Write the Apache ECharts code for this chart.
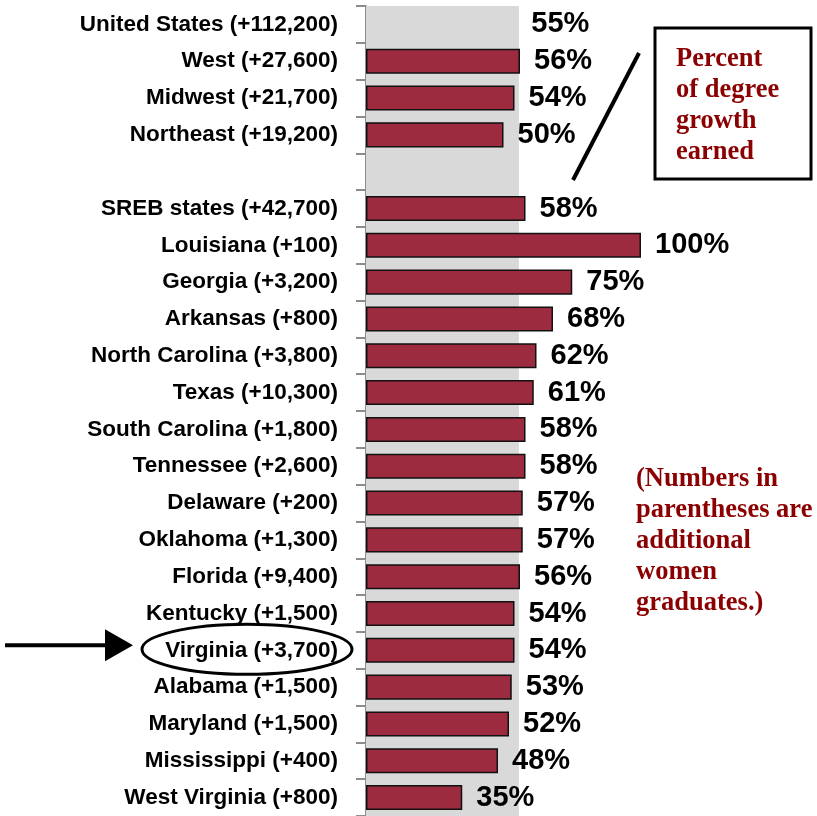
<!DOCTYPE html>
<html><head><meta charset="utf-8">
<script src="https://cdn.jsdelivr.net/npm/echarts@6/dist/echarts.min.js"></script>
<style>html,body{margin:0;padding:0;background:#fff}#c{width:817px;height:816px}</style>
</head><body><div id="c"></div>
<script>
const categories = ['United States (+112,200)','West (+27,600)','Midwest (+21,700)','Northeast (+19,200)','',
  'SREB states (+42,700)','Louisiana (+100)','Georgia (+3,200)','Arkansas (+800)','North Carolina (+3,800)',
  'Texas (+10,300)','South Carolina (+1,800)','Tennessee (+2,600)','Delaware (+200)','Oklahoma (+1,300)',
  'Florida (+9,400)','Kentucky (+1,500)','Virginia (+3,700)','Alabama (+1,500)','Maryland (+1,500)',
  'Mississippi (+400)','West Virginia (+800)'];
const values = [55,56,54,50,null,58,100,75,68,62,61,58,58,57,57,56,54,54,53,52,48,35];
const usValue = 55;
const boxText = ['Percent','of degree','growth','earned'];
const noteText = ['(Numbers in','parentheses are','additional','women','graduates.)'];

const chart = echarts.init(document.getElementById('c'));
const barData = values.map((v,i)=> i===0
  ? {value:v, itemStyle:{color:'rgba(0,0,0,0)', borderWidth:0}}
  : (v===null ? '-' : v));

chart.setOption({
  animation:false,
  grid:{left:366, width:275, top:6, height:817, containLabel:false},
  xAxis:{type:'value', min:0, max:100, show:false},
  yAxis:{type:'category', data:categories, inverse:true,
    axisLine:{show:true, lineStyle:{color:'#8c8c8c', width:2}},
    axisTick:{show:true, alignWithLabel:false, length:10, lineStyle:{color:'#8c8c8c', width:2}},
    axisLabel:{margin:28, color:'#000', fontFamily:'Liberation Sans, Arial, sans-serif', fontWeight:'bold', fontSize:22.5, padding:[4,0,0,0]}
  },
  series:[{
    type:'bar', data:barData, barWidth:'68%',
    itemStyle:{color:'#9c2b3f', borderColor:'#111', borderWidth:1.5},
    label:{show:true, position:'right', distance:14, formatter:'{c}%', color:'#000',
      fontFamily:'Liberation Sans, Arial, sans-serif', fontWeight:'bold', fontSize:29, padding:[4,0,0,0]},
    markArea:{silent:true, itemStyle:{color:'#d9d9d9'}, data:[[{xAxis:0},{xAxis:usValue + 0.6}]]},
    z:2
  }]
});

const vy = chart.convertToPixel({yAxisIndex:0}, categories[17]);
const serif = 'Liberation Serif, Times New Roman, serif';
chart.setOption({graphic:[
  {type:'ellipse', shape:{cx:247, cy:vy-1, rx:105, ry:25}, style:{fill:'none', stroke:'#000', lineWidth:3}},
  {type:'line', shape:{x1:5, y1:vy-5, x2:108, y2:vy-5}, style:{stroke:'#000', lineWidth:4}},
  {type:'polygon', shape:{points:[[105,vy-21],[133,vy-5],[105,vy+11]]}, style:{fill:'#000'}},
  {type:'rect', shape:{x:655, y:28, width:156, height:151}, style:{fill:'#fff', stroke:'#000', lineWidth:3}},
  {type:'text', left:676, top:44, style:{text:boxText.join('\n'), font:'bold 26.5px '+serif, fill:'#8b0000', lineHeight:31}},
  {type:'line', shape:{x1:639, y1:53, x2:573, y2:180}, style:{stroke:'#000', lineWidth:4}},
  {type:'text', left:636, top:464, style:{text:noteText.join('\n'), font:'bold 26.5px '+serif, fill:'#8b0000', lineHeight:31}}
]});
</script></body></html>
